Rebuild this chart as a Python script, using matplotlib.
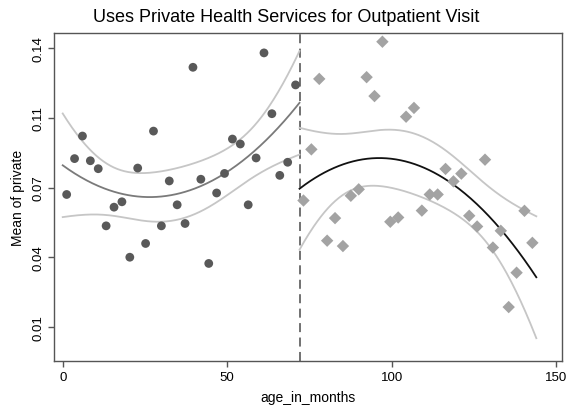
import numpy as np
import matplotlib
matplotlib.use("Agg")
import matplotlib.pyplot as plt

plt.rcParams['font.family'] = ['Liberation Sans', 'DejaVu Sans']

# Left group (age < 72 months), binned means
age_left = [1.2, 3.6, 6.0, 8.4, 10.8, 13.2, 15.6, 18.0, 20.4, 22.8,
            25.2, 27.6, 30.0, 32.4, 34.8, 37.2, 39.6, 42.0, 44.4, 46.8,
            49.2, 51.6, 54.0, 56.4, 58.8, 61.2, 63.6, 66.0, 68.4, 70.8]
priv_left = [0.0718, 0.0885, 0.0990, 0.0875, 0.0838, 0.0572, 0.0659, 0.0684, 0.0426, 0.0841,
             0.0490, 0.1013, 0.0572, 0.0781, 0.0670, 0.0583, 0.1310, 0.0789, 0.0397, 0.0725,
             0.0816, 0.0976, 0.0953, 0.0670, 0.0888, 0.1377, 0.1094, 0.0807, 0.0868, 0.1228]

# Right group (age >= 72 months)
age_right = [73.2, 75.6, 78.0, 80.4, 82.8, 85.2, 87.6, 90.0, 92.4, 94.8,
             97.2, 99.6, 102.0, 104.4, 106.8, 109.2, 111.6, 114.0, 116.4, 118.8,
             121.2, 123.6, 126.0, 128.4, 130.8, 133.2, 135.6, 138.0, 140.4, 142.8]
priv_right = [0.0690, 0.0928, 0.1256, 0.0503, 0.0608, 0.0478, 0.0712, 0.0742, 0.1264, 0.1176,
              0.1429, 0.0591, 0.0611, 0.1080, 0.1121, 0.0643, 0.0718, 0.0718, 0.0837, 0.0779,
              0.0815, 0.0619, 0.0569, 0.0880, 0.0471, 0.0549, 0.0194, 0.0354, 0.0642, 0.0493]

cutoff = 72
xticks = [0, 50, 100, 150]
yticks = [0.14, 0.1075, 0.075, 0.0425, 0.01]
ytick_labels = ["0.14", "0.11", "0.07", "0.04", "0.01"]
T_CRIT = 2.052  # t(0.975, df=27)


def qfit_ci(x, y, xg):
    x = np.asarray(x); y = np.asarray(y)
    X = np.column_stack([np.ones_like(x), x, x ** 2])
    beta, *_ = np.linalg.lstsq(X, y, rcond=None)
    resid = y - X @ beta
    n, p = X.shape
    s2 = resid @ resid / (n - p)
    XtXi = np.linalg.inv(X.T @ X)
    G = np.column_stack([np.ones_like(xg), xg, xg ** 2])
    pred = G @ beta
    se = np.sqrt(s2 * np.einsum('ij,jk,ik->i', G, XtXi, G))
    return pred, pred - T_CRIT * se, pred + T_CRIT * se


W, H = 573, 406
fig = plt.figure(figsize=(W / 100, H / 100), dpi=100)
ax = fig.add_axes([54 / W, (H - 362) / H, (562.3 - 54) / W, (362 - 33.7) / H])

xg_l = np.linspace(0, cutoff, 200)
xg_r = np.linspace(cutoff, 144, 200)
pl, lol, hil = qfit_ci(age_left, priv_left, xg_l)
pr, lor, hir = qfit_ci(age_right, priv_right, xg_r)

ci_col = '#c6c6c6'
ax.plot(xg_l, hil, color=ci_col, lw=1.3, zorder=2)
ax.plot(xg_l, lol, color=ci_col, lw=1.3, zorder=2)
ax.plot(xg_l, pl, color='#7a7a7a', lw=1.3, zorder=3)
ax.plot(xg_r, hir, color=ci_col, lw=1.3, zorder=2)
ax.plot(xg_r, lor, color=ci_col, lw=1.3, zorder=2)
ax.plot(xg_r, pr, color='#111111', lw=1.3, zorder=3)

ax.scatter(age_left, priv_left, s=40, marker='o', color='#595959', edgecolors='none', zorder=4)
ax.scatter(age_right, priv_right, s=40, marker='D', color='#a3a3a3', edgecolors='none', zorder=4)

ax.axvline(cutoff, color='#666666', lw=1.3, ls=(0, (5, 3)), zorder=1)

ax.set_xlim(-2.65, 151.9)
ax.set_ylim(-0.0057, 0.1471)
ax.set_xticks(xticks)
ax.set_xticklabels([str(t) for t in xticks])
ax.set_yticks(yticks)
ax.set_yticklabels(ytick_labels, rotation=90, va='center')

for sp in ax.spines.values():
    sp.set_color('#555555')
    sp.set_linewidth(1.0)
ax.tick_params(axis='both', direction='out', length=4, width=1.0, color='#555555',
               labelsize=9.5, pad=3)

fig.text(0.5, 1 - 17 / H, "Uses Private Health Services for Outpatient Visit",
         fontsize=13, ha='center', va='center')
ax.set_xlabel("age_in_months", fontsize=10, labelpad=5)
ax.set_ylabel("Mean of private", fontsize=10, labelpad=5)

fig.savefig("out.png", dpi=100)
